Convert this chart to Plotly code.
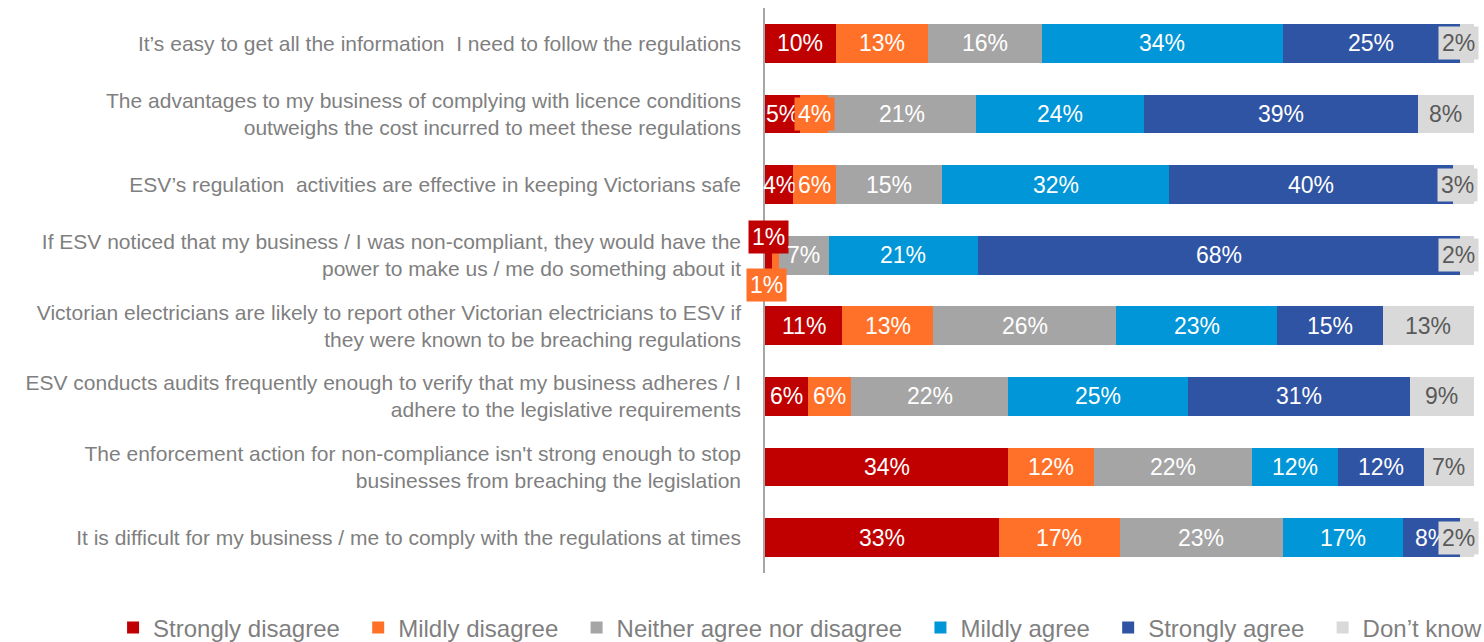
import plotly.graph_objects as go

categories = [
    "It’s easy to get all the information  I need to follow the regulations",
    "The advantages to my business of complying with licence conditions<br>outweighs the cost incurred to meet these regulations",
    "ESV’s regulation  activities are effective in keeping Victorians safe",
    "If ESV noticed that my business / I was non-compliant, they would have the<br>power to make us / me do something about it",
    "Victorian electricians are likely to report other Victorian electricians to ESV if<br>they were known to be breaching regulations",
    "ESV conducts audits frequently enough to verify that my business adheres / I<br>adhere to the legislative requirements",
    "The enforcement action for non-compliance isn't strong enough to stop<br>businesses from breaching the legislation",
    "It is difficult for my business / me to comply with the regulations at times",
]
series_names = ["Strongly disagree", "Mildly disagree", "Neither agree nor disagree",
                "Mildly agree", "Strongly agree", "Don’t know"]
strongly_disagree = [10, 5, 4, 1, 11, 6, 34, 33]
mildly_disagree = [13, 4, 6, 1, 13, 6, 12, 17]
neither = [16, 21, 15, 7, 26, 22, 22, 23]
mildly_agree = [34, 24, 32, 21, 23, 25, 12, 17]
strongly_agree = [25, 39, 40, 68, 15, 31, 12, 8]
dont_know = [2, 8, 3, 2, 13, 9, 7, 2]

series_values = [strongly_disagree, mildly_disagree, neither, mildly_agree, strongly_agree, dont_know]
colors = ["#C00000", "#FF7128", "#A5A5A5", "#0096D7", "#2F54A4", "#D9D9D9"]
label_colors = ["white", "white", "white", "white", "white", "#595959"]

# boxed labels: (row, series) -> (xshift, yshift) in px
boxed = {(0, 5): (-8, 0), (1, 1): (0, 0), (2, 1): (0, 0), (2, 5): (-6, 0),
         (3, 5): (-8, 0), (7, 5): (-8, 0)}
# call-outs with leader lines: (row, series) -> (ax, ay) text offset from anchor, anchor yshift
callouts = {(3, 0): (0, -27, -9), (3, 1): (-9, 21, -9)}

FONT = "Liberation Sans, Arial, sans-serif"
PAD = "\u00a0\u00a0"  # extra spacing between legend entries

fig = go.Figure()
n = len(series_names)
for i, (name, vals, col) in enumerate(zip(series_names, series_values, colors)):
    fig.add_trace(go.Bar(
        y=categories, x=vals, name=name + (PAD if i < n - 1 else ""), orientation="h",
        marker=dict(color=col, line=dict(width=0)),
        hoverinfo="skip",
    ))

annotations = []
for r, cat in enumerate(categories):
    total = sum(s[r] for s in series_values)
    cum = 0.0
    for k, s in enumerate(series_values):
        v = s[r]
        mid = (cum + v / 2) / total * 100
        cum += v
        ann = dict(x=mid, y=cat, xref="x", yref="y", text=f"{v}%", showarrow=False,
                   font=dict(family=FONT, size=23, color=label_colors[k]))
        if (r, k) in boxed:
            xs, ys = boxed[(r, k)]
            ann.update(bgcolor=colors[k], borderpad=3, xshift=xs, yshift=ys)
        if (r, k) in callouts:
            ax, ay, ys = callouts[(r, k)]
            ann.update(bgcolor=colors[k], borderpad=3, showarrow=True, arrowhead=0,
                       arrowwidth=2.5, arrowcolor=colors[k], ax=ax, ay=ay, yshift=ys,
                       standoff=0, startstandoff=0)
        annotations.append(ann)

fig.update_layout(
    barmode="stack",
    barnorm="percent",
    bargap=0.45,
    width=1484, height=642,
    margin=dict(l=765, r=10, t=8, b=69, autoexpand=False),
    paper_bgcolor="white", plot_bgcolor="white",
    font=dict(family=FONT, color="#7F7F7F"),
    xaxis=dict(range=[0, 100], visible=False, fixedrange=True, automargin=False),
    yaxis=dict(categoryorder="array", categoryarray=categories, autorange="reversed",
               showline=True, linecolor="#A6A6A6", linewidth=1.5, ticks="",
               showgrid=False, automargin=False, fixedrange=True,
               tickfont=dict(family=FONT, size=21, color="#7F7F7F"),
               ticklabelstandoff=18),
    legend=dict(orientation="h", xref="paper", yref="paper", x=-0.9195, xanchor="left",
                y=-0.097, yanchor="middle", font=dict(family=FONT, size=24, color="#7F7F7F"),
                traceorder="normal", itemwidth=30, tracegroupgap=0),
    annotations=annotations,
    showlegend=True,
)

fig.write_html("out.html", config={"displayModeBar": False},
               post_script="document.body.style.margin='0px';")
